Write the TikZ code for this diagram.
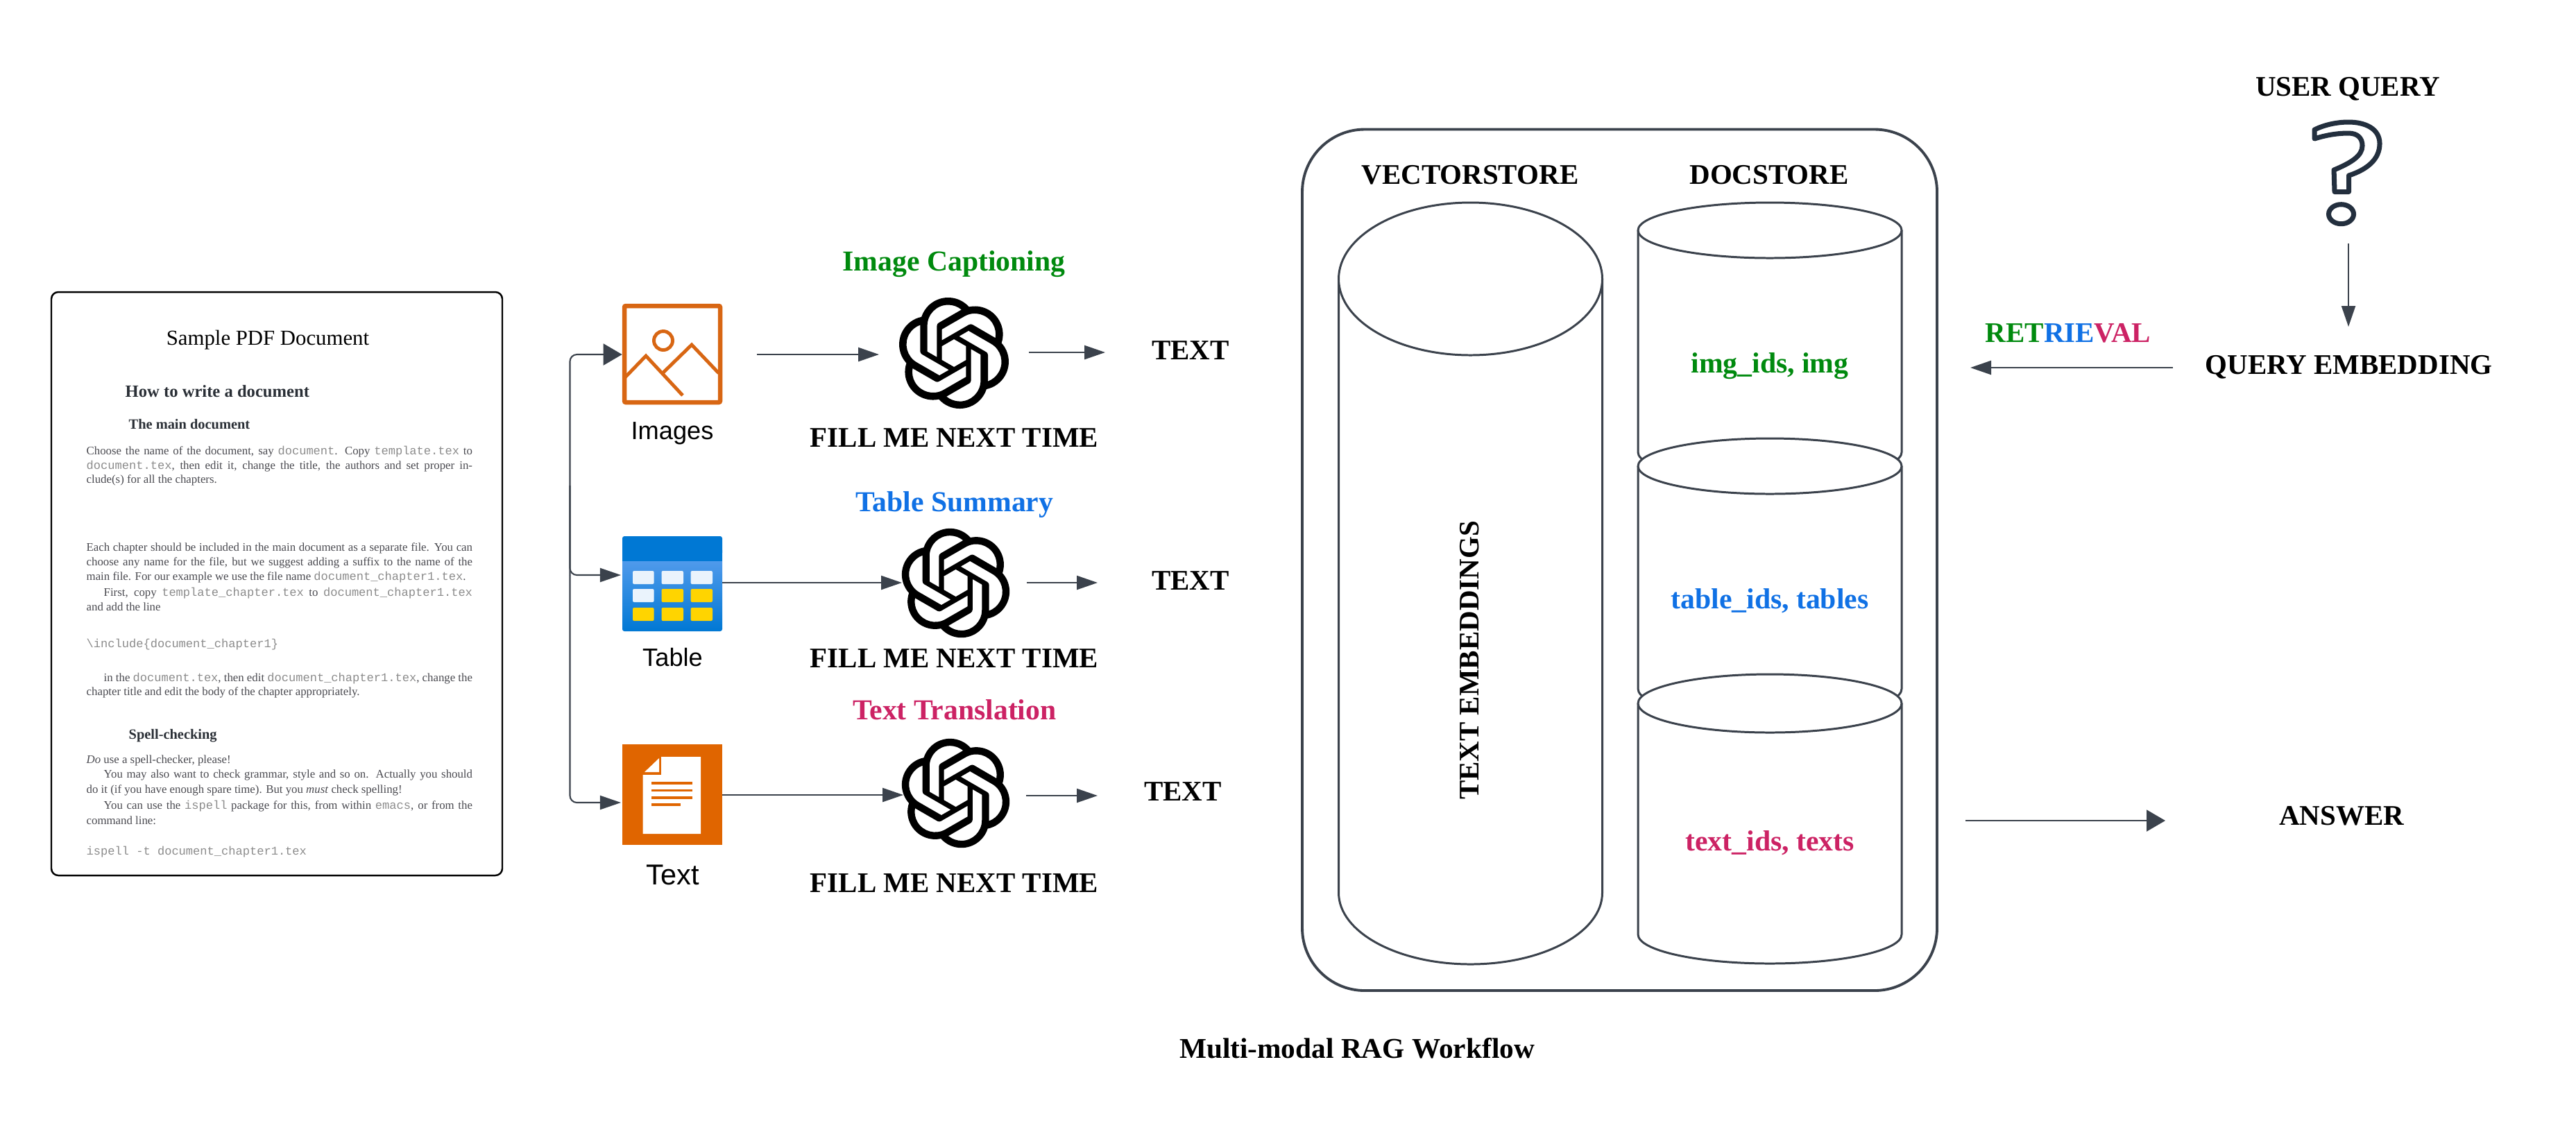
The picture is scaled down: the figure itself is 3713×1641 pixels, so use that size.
\documentclass[tikz,border=0pt]{standalone}
\usepackage{fontspec}
\setmainfont{Liberation Serif}
\setsansfont{Liberation Sans}
\setmonofont{Liberation Mono}
\usetikzlibrary{svg.path,arrows.meta}
\definecolor{slate}{HTML}{3B424C}
\definecolor{qmark}{HTML}{232F3E}
\definecolor{imgor}{HTML}{D86613}
\definecolor{txtor}{HTML}{E06500}
\definecolor{tblue}{HTML}{0078D4}
\definecolor{tlight}{HTML}{5EA0EF}
\definecolor{tcell}{HTML}{EAF3FC}
\definecolor{tyell}{HTML}{FFD400}
\definecolor{lgreen}{HTML}{008A0E}
\definecolor{lblue}{HTML}{1071E5}
\definecolor{lpink}{HTML}{CC2264}
\definecolor{docbody}{HTML}{4A4A50}
\definecolor{docmono}{HTML}{8C8C8C}
\definecolor{dochead}{HTML}{2A2F36}
\newcommand{\aimark}[3]{\begin{scope}[shift={(#1,#2)},xscale=#3,yscale=-#3,shift={(-12pt,-12pt)}]
\fill svg "M22.2819 9.8211a5.9847 5.9847 0 0 0-.5157-4.9108 6.0462 6.0462 0 0 0-6.5098-2.9A6.0651 6.0651 0 0 0 4.9807 4.1818a5.9847 5.9847 0 0 0-3.9977 2.9 6.0462 6.0462 0 0 0 .7427 7.0966 5.98 5.98 0 0 0 .511 4.9107 6.051 6.051 0 0 0 6.5146 2.9001A5.9847 5.9847 0 0 0 13.2599 24a6.0557 6.0557 0 0 0 5.7718-4.2058 5.9894 5.9894 0 0 0 3.9977-2.9001 6.0557 6.0557 0 0 0-.7475-7.0729zM13.2599 22.4292a4.4755 4.4755 0 0 1-2.8764-1.0408l.1419-.0804 4.7783-2.7582a.7948.7948 0 0 0 .3927-.6813v-6.7369l2.02 1.1686a.071.071 0 0 1 .038.052v5.5826a4.504 4.504 0 0 1-4.4945 4.4944zM3.5992 18.3038a4.4708 4.4708 0 0 1-.5346-3.0137l.142.0852 4.783 2.7582a.7712.7712 0 0 0 .7806 0l5.8428-3.3685v2.3324a.0804.0804 0 0 1-.0332.0615L9.74 19.9502a4.4992 4.4992 0 0 1-6.1408-1.6464zM2.3408 7.8956a4.485 4.485 0 0 1 2.3655-1.9728V11.6a.7664.7664 0 0 0 .3879.6765l5.8144 3.3543-2.0201 1.1685a.0757.0757 0 0 1-.071 0l-4.8303-2.7865A4.504 4.504 0 0 1 2.3408 7.872zM18.9371 11.7514L13.1038 8.364 15.1192 7.2a.0757.0757 0 0 1 .071 0l4.8303 2.7913a4.4944 4.4944 0 0 1-.6765 8.1042v-5.6772a.79.79 0 0 0-.407-.667zM20.9478 8.7283l-.142-.0852-4.7735-2.7818a.7759.7759 0 0 0-.7854 0L9.409 9.2297V6.8974a.0662.0662 0 0 1 .0284-.0615l4.8303-2.7866a4.4992 4.4992 0 0 1 6.6802 4.66zM8.3065 12.863l-2.02-1.1638a.0804.0804 0 0 1-.038-.0567V6.0742a4.4992 4.4992 0 0 1 7.3757-3.4537l-.142.0805L8.704 5.459a.7948.7948 0 0 0-.3927.6813zM9.4041 10.4976l2.602-1.4998 2.6069 1.4998v2.9994l-2.5974 1.4997-2.6067-1.4997Z";
\end{scope}}
\tikzset{
  lbl/.style={inner sep=0pt,outer sep=0pt,anchor=base,font=\bfseries\fontsize{11.65}{14}\selectfont},
  capt/.style={lbl,font=\bfseries\fontsize{11.85}{14}\selectfont},
  icon/.style={inner sep=0pt,outer sep=0pt,anchor=base,font=\sffamily\fontsize{10.3}{12}\selectfont},
  dbody/.style={inner sep=0pt,anchor=base west,text=docbody,font=\fontsize{4.78}{5}\selectfont},
  dhead/.style={inner sep=0pt,anchor=base west,text=dochead,font=\bfseries\fontsize{5.2}{6}\selectfont},
  conn/.style={draw=slate,line width=0.72pt,-{Triangle[length=3mm,width=2mm,fill=slate]}},
  bigconn/.style={draw=slate,line width=0.6pt,-{Triangle[length=2.7mm,width=3.1mm,fill=slate]}},
  cyl/.style={draw=slate,line width=0.85pt,fill=white},
}
\newcommand{\mt}[1]{\textcolor{docmono}{\fontsize{4.85}{5}\selectfont\texttt{#1}}}
\begin{document}
\begin{tikzpicture}[x=0.01cm,y=-0.01cm]
\useasboundingbox (0,0) rectangle (3713,1641);
\fill[white] (0,0) rectangle (3713,1641);

% document
\draw[black,line width=0.7pt,rounded corners=0.1cm] (74,421) rectangle (724,1262);
\node[inner sep=0pt,anchor=base,font=\fontsize{8.75}{11}\selectfont] (doctitle) at (386,497) {Sample PDF Document};
\node[dhead,font=\bfseries\fontsize{7.0}{9}\selectfont] (dh1) at (180,572) {How to write a document};
\node[dhead,font=\bfseries\fontsize{5.8}{7}\selectfont] (dh2) at (185,618) {The main document};
\node[dbody] (d1) at (124,655) {\makebox[5.56cm][s]{Choose the name of the document, say \mt{document}. Copy \mt{template.tex} to}};
\node[dbody] (d2) at (124,676) {\makebox[5.56cm][s]{\mt{document.tex}, then edit it, change the title, the authors and set proper in-}};
\node[dbody] (d3) at (124,696) {clude(s) for all the chapters.};
\node[dbody] (d4) at (124,794) {\makebox[5.56cm][s]{Each chapter should be included in the main document as a separate file. You can}};
\node[dbody] (d5) at (124,815) {\makebox[5.56cm][s]{choose any name for the file, but we suggest adding a suffix to the name of the}};
\node[dbody] (d6) at (124,836.5) {main file. For our example we use the file name \mt{document\_chapter1.tex}.};
\node[dbody] (d7) at (149,859.5) {\makebox[5.31cm][s]{First, copy \mt{template\_chapter.tex} to \mt{document\_chapter1.tex}}};
\node[dbody] (d8) at (124,880) {and add the line};
\node[dbody] (d9) at (124,933) {\mt{\textbackslash include\{document\_chapter1\}}};
\node[dbody] (d10) at (149,982) {\makebox[5.31cm][s]{in the \mt{document.tex}, then edit \mt{document\_chapter1.tex}, change the}};
\node[dbody] (d11) at (124,1002.6) {chapter title and edit the body of the chapter appropriately.};
\node[dhead,font=\bfseries\fontsize{5.8}{7}\selectfont] (dh3) at (185,1065) {Spell-checking};
\node[dbody] (d12) at (124,1100) {\textit{Do} use a spell-checker, please!};
\node[dbody] (d13) at (149,1121.6) {\makebox[5.31cm][s]{You may also want to check grammar, style and so on. Actually you should}};
\node[dbody] (d14) at (124,1143.5) {do it (if you have enough spare time). But you \textit{must} check spelling!};
\node[dbody] (d15) at (149,1166.5) {\makebox[5.31cm][s]{You can use the \mt{ispell} package for this, from within \mt{emacs}, or from the}};
\node[dbody] (d16) at (124,1188) {command line:};
\node[dbody] (d17) at (124,1232) {\mt{ispell -t document\_chapter1.tex}};

% images icon
\draw[imgor,line width=1.85pt,rounded corners=0.02cm] (900,441) rectangle (1038,580);
\draw[imgor,line width=1.4pt] (956,491) circle [radius=13.5];
\draw[imgor,line width=1.4pt,miter limit=10] (901,544) -- (931,513) -- (984,570);
\draw[imgor,line width=1.4pt,miter limit=10] (955,538) -- (997,497) -- (1036,538);
\node[icon] (imglbl) at (969,633) {Images};

% table icon
\shade[top color=tlight,bottom color=tblue,rounded corners=0.03cm] (897,790) rectangle (1041,910);
\fill[tblue,rounded corners=0.03cm] (897,773) rectangle (1041,800);
\fill[tblue] (897,790) rectangle (1041,809);
\foreach \xa/\xb/\ya/\yb/\cc in {912/942.6/823/842/tcell,953.5/985/823/842/tcell,995.6/1027/823/842/tcell,
  912/942.6/849/868/tcell,953.5/985/849/868/tyell,995.6/1027/849/868/tyell,
  912/942.6/876/895/tyell,953.5/985/876/895/tyell,995.6/1027/876/895/tyell}
  {\fill[\cc,rounded corners=0.02cm] (\xa,\ya) rectangle (\xb,\yb);}
\node[icon] (tbllbl) at (969.5,960) {Table};

% text icon
\fill[txtor] (897,1073) rectangle (1041,1218);
\fill[white] (953,1091) -- (1010,1091) -- (1010,1202) -- (926.7,1202) -- (926.7,1117) -- (953,1117) -- cycle;
\fill[white] (929,1113) -- (950,1113) -- (950,1093) -- cycle;
\foreach \yy/\xe in {1129/998,1139.5/998,1150/998,1160/981}
  {\draw[txtor,line width=0.95pt] (939.4,\yy) -- (\xe,\yy);}
\node[icon,font=\sffamily\fontsize{11.8}{14}\selectfont] (txtlbl) at (970,1275) {Text};

% logos
\aimark{1375}{509}{1.897}
\aimark{1377.5}{840.5}{1.865}
\aimark{1377.5}{1143.5}{1.865}

% labels of the middle column
\node[capt,text=lgreen] (cap1) at (1375,390) {Image Captioning};
\node[capt,text=lblue] (cap2) at (1376,737) {Table Summary};
\node[capt,text=lpink] (cap3) at (1376,1037) {Text Translation};
\node[lbl] (fill1) at (1375.5,644) {FILL ME NEXT TIME};
\node[lbl] (fill2) at (1375.5,962) {FILL ME NEXT TIME};
\node[lbl] (fill3) at (1375.5,1286) {FILL ME NEXT TIME};
\node[lbl] (text1) at (1716,518) {TEXT};
\node[lbl] (text2) at (1716,850) {TEXT};
\node[lbl] (text3) at (1705,1154) {TEXT};

% connector ends
\coordinate (busTop) at (821.5,511);
\coordinate (busMid) at (821.5,829);
\coordinate (busBot) at (821.5,1157);
\coordinate (imgIn) at (896.7,511);
\coordinate (tblIn) at (895,829);
\coordinate (txtIn) at (895,1157);
\coordinate (imgOut) at (1091,511);
\coordinate (logo1In) at (1267,511);
\coordinate (logo1Out) at (1483,508);
\coordinate (text1In) at (1593,508);
\coordinate (tblOut) at (1041,840);
\coordinate (logo2In) at (1300,840);
\coordinate (logo2Out) at (1480,840);
\coordinate (text2In) at (1582,840);
\coordinate (txtOut) at (1041,1146);
\coordinate (logo3In) at (1302,1146);
\coordinate (logo3Out) at (1479,1147);
\coordinate (text3In) at (1582,1147);

\draw[draw=slate,line width=0.6pt,rounded corners=0.1cm,-{Triangle[length=2.7mm,width=3.1mm,fill=slate]}] (busMid) -- (busTop) -- (imgIn);
\draw[draw=slate,line width=0.6pt,rounded corners=0.1cm,-{Triangle[length=3mm,width=2mm,fill=slate]}] (821.5,700) -- (busMid) -- (tblIn);
\draw[draw=slate,line width=0.6pt,rounded corners=0.1cm,-{Triangle[length=3mm,width=2mm,fill=slate]}] (busMid) -- (busBot) -- (txtIn);
\draw[conn] (imgOut) -- (logo1In);
\draw[conn] (logo1Out) -- (text1In);
\draw[conn] (tblOut) -- (logo2In);
\draw[conn] (logo2Out) -- (text2In);
\draw[conn] (txtOut) -- (logo3In);
\draw[conn] (logo3Out) -- (text3In);

% stores
\draw[slate,line width=1.1pt,rounded corners=0.9cm] (1877,186.5) rectangle (2792,1428);
\node[lbl] (vs) at (2119,265) {VECTORSTORE};
\node[lbl] (ds) at (2550,265) {DOCSTORE};
\draw[cyl] (1929.5,402) -- (1929.5,1287) arc[start angle=180,end angle=0,x radius=190,y radius=103] -- (2309.5,402);
\draw[cyl] (2119.5,402) ellipse [x radius=190,y radius=110];
\node[lbl,rotate=90,anchor=base] (te) at (2131,952) {TEXT EMBEDDINGS};
\draw[cyl] (2361,332) -- (2361,652) arc[start angle=180,end angle=0,x radius=190,y radius=40] -- (2741,332);
\draw[cyl] (2551,332) ellipse [x radius=190,y radius=40];
\draw[cyl] (2361,672) -- (2361,993) arc[start angle=180,end angle=0,x radius=190,y radius=42] -- (2741,672);
\draw[cyl] (2551,672) ellipse [x radius=190,y radius=40];
\draw[cyl] (2361,1014) -- (2361,1347) arc[start angle=180,end angle=0,x radius=190,y radius=42] -- (2741,1014);
\draw[cyl] (2551,1014) ellipse [x radius=190,y radius=42];
\node[capt,text=lgreen] (s1) at (2551,537) {img\_ids, img};
\node[capt,text=lblue] (s2) at (2551,877) {table\_ids, tables};
\node[capt,text=lpink] (s3) at (2551,1226) {text\_ids, texts};

% right column
\node[lbl] (uq) at (3384,138) {USER QUERY};
\draw[qmark,line width=2pt,line join=round]
  (3336,187) -- (3336,200)
  .. controls (3352,195) and (3368,192) .. (3385,192)
  .. controls (3398,192) and (3405,199) .. (3405,210)
  .. controls (3405,225) and (3388,235) .. (3364,245)
  -- (3365,276.5) -- (3385.5,276.5) -- (3385.5,253)
  .. controls (3413,244) and (3430,229) .. (3430,207)
  .. controls (3430,186) and (3410,176) .. (3385,176)
  .. controls (3368,176) and (3350,180) .. (3336,187) -- cycle;
\draw[qmark,line width=2pt] (3374.5,308.7) ellipse [x radius=18,y radius=14];
\coordinate (qOut) at (3385,351);
\coordinate (embIn) at (3385,471);
\draw[draw=slate,line width=0.6pt,-{Triangle[length=3mm,width=2mm,fill=slate]}] (qOut) -- (embIn);
\node[lbl] (qe) at (3385.5,539) {QUERY EMBEDDING};
\node[lbl] (ret) at (2981,493) {\textcolor{lgreen}{RET}\textcolor{lblue}{RIE}\textcolor{lpink}{VAL}};
\coordinate (embOut) at (3132,530);
\coordinate (storeIn) at (2840,530);
\draw[conn] (embOut) -- (storeIn);
\coordinate (storeOut) at (2833,1183);
\coordinate (ansIn) at (3121,1183);
\draw[bigconn] (storeOut) -- (ansIn);
\node[lbl] (ans) at (3375,1189) {ANSWER};
\node[lbl,font=\bfseries\fontsize{11.75}{14}\selectfont] (title) at (1956,1525) {Multi-modal RAG Workflow};
\end{tikzpicture}
\end{document}
